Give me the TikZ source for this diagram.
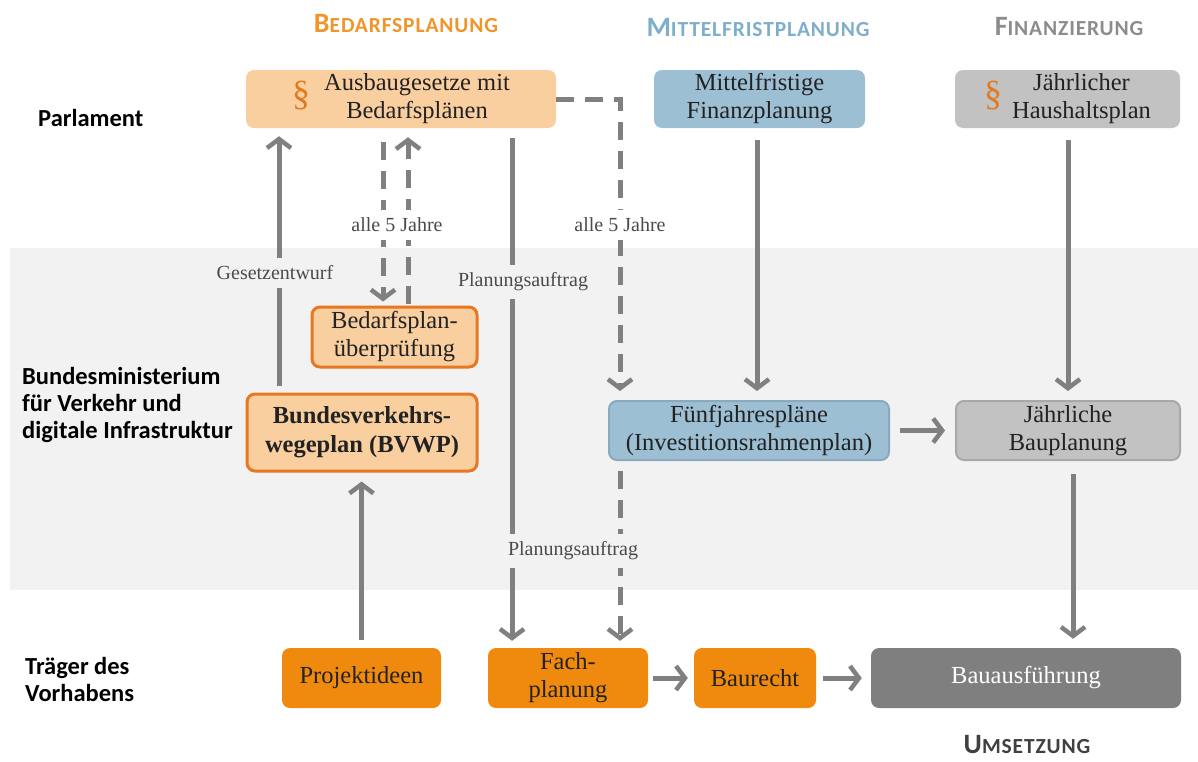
\documentclass[tikz,border=0pt]{standalone}
\usepackage{fontspec}
\setmainfont{Liberation Serif}
\newfontfamily\lab{Carlito}
\newfontfamily\hdrfont[LetterSpace=4]{Carlito}
\usetikzlibrary{arrows.meta,calc}
\definecolor{band}{HTML}{F2F2F2}
\definecolor{lor}{HTML}{F9CFA0}
\definecolor{orb}{HTML}{E87722}
\definecolor{ors}{HTML}{EF8A0E}
\definecolor{blu}{HTML}{9DBFD3}
\definecolor{blub}{HTML}{8AA9BC}
\definecolor{lgr}{HTML}{C2C2C2}
\definecolor{lgrb}{HTML}{A8A8A8}
\definecolor{dgr}{HTML}{7F7F7F}
\definecolor{arrc}{HTML}{808080}
\definecolor{txt}{HTML}{222222}
\definecolor{labc}{HTML}{4A4A4A}
\definecolor{hor}{HTML}{F0952A}
\definecolor{hbl}{HTML}{7FAECB}
\definecolor{hgr}{HTML}{8C8C8C}
\definecolor{hdk}{HTML}{404040}
\definecolor{secor}{HTML}{E07A22}
\begin{document}
\begin{tikzpicture}[x=1pt,y=-1pt,
  box/.style={rounded corners=8pt, align=center, text=txt, inner sep=0pt,
    font=\fontsize{24.5}{28}\selectfont},
  rowlab/.style={anchor=west, align=left, font=\lab\bfseries\fontsize{24.5}{27}\selectfont, text=black, inner sep=0pt},
  hdr/.style={anchor=base, font=\hdrfont\bfseries\fontsize{21.5}{21.5}\selectfont, inner sep=0pt},
  arr/.style={draw=arrc, line width=5pt, -{Straight Barb[length=9pt,width=24pt,line width=4.5pt]}},
  dsh/.style={arr, dash pattern=on 18pt off 11pt},
  lbl/.style={font=\fontsize{20}{22}\selectfont, text=labc, inner xsep=3pt, inner ysep=8pt}]
\useasboundingbox (0,0) rectangle (1198,761);
\fill[band] (10,248) rectangle (1198,590);

% headers
\node[hdr, text=hor] (h1) at (406,32) {{\fontsize{28}{28}\selectfont B}EDARFSPLANUNG};
\node[hdr, text=hbl] (h2) at (758,36) {{\fontsize{28}{28}\selectfont M}ITTELFRISTPLANUNG};
\node[hdr, text=hgr] (h3) at (1069,35) {{\fontsize{28}{28}\selectfont F}INANZIERUNG};
\node[hdr, text=hdk] (h4) at (1027,753) {{\fontsize{28}{28}\selectfont U}MSETZUNG};

% row labels
\node[rowlab] (r1) at (38,118) {Parlament};
\node[rowlab] (r2) at (22,405) {Bundesministerium\\für Verkehr und\\digitale Infrastruktur};
\node[rowlab] (r3) at (25,679) {Träger des\\Vorhabens};

% nodes
\node[box, fill=lor, minimum width=310pt, minimum height=58pt] (A) at (401,99)
  {\textcolor{secor}{\fontsize{36}{36}\selectfont\S}\hspace{14pt}\begin{tabular}{@{}c@{}}Ausbaugesetze mit\\Bedarfsplänen\end{tabular}};
\node[box, fill=blu, minimum width=211pt, minimum height=58pt] (B) at (759.5,99)
  {Mittelfristige\\Finanzplanung};
\node[box, fill=lgr, minimum width=225pt, minimum height=58pt] (C) at (1067.5,99)
  {\textcolor{secor}{\fontsize{36}{36}\selectfont\S}\hspace{10pt}\begin{tabular}{@{}c@{}}Jährlicher\\Haushaltsplan\end{tabular}};
\node[box, fill=lor, draw=orb, line width=3pt, minimum width=165pt, minimum height=60pt] (D) at (394.5,337)
  {Bedarfsplan-\\überprüfung};
\node[box, fill=lor, draw=orb, line width=3pt, minimum width=230pt, minimum height=77pt, font=\bfseries\fontsize{24.5}{29}\selectfont] (E) at (362,432.5)
  {Bundesverkehrs-\\wegeplan (BVWP)};
\node[box, fill=blu, draw=blub, line width=2pt, minimum width=280pt, minimum height=59pt] (F) at (749,430.5)
  {Fünfjahrespläne\\(Investitionsrahmenplan)};
\node[box, fill=lgr, draw=lgrb, line width=2pt, minimum width=224pt, minimum height=59pt] (G) at (1068,430.5)
  {Jährliche\\Bauplanung};
\node[box, fill=ors, minimum width=159pt, minimum height=60pt] (H) at (361.5,678) {Projektideen};
\node[box, fill=ors, minimum width=160pt, minimum height=60pt] (I) at (568,678) {Fach-\\planung};
\node[box, fill=ors, minimum width=122pt, minimum height=60pt] (J) at (755,678) {Baurecht};
\node[box, fill=dgr, text=white, minimum width=310pt, minimum height=60pt] (K) at (1026,678) {Bauausführung};

% connectors
\draw[arr, shorten <=7pt, shorten >=8pt] ([xshift=-83pt]E.north) -- ([xshift=-122pt]A.south);
\draw[dsh, shorten <=14pt, shorten >=4pt] ([xshift=-18pt]A.south) -- ([xshift=-11.5pt]D.north);
\draw[dsh, shorten <=2pt, shorten >=9pt] ([xshift=13.5pt]D.north) -- ([xshift=7pt]A.south);
\draw[arr, shorten <=10pt, shorten >=7pt] ([xshift=111pt]A.south) -- ([xshift=-56pt]I.north);
\draw[dsh, shorten >=9pt] (A.east) -| ([xshift=-129pt]F.north);
\draw[dsh, shorten <=10pt, shorten >=7pt] ([xshift=-129pt]F.south) -- ([xshift=52pt]I.north);
\draw[arr, shorten <=12pt, shorten >=9pt] ([xshift=-2.5pt]B.south) -- ([xshift=-2.5pt]B.south |- F.north);
\draw[arr, shorten <=12pt, shorten >=9pt] ([xshift=0.5pt]C.south) -- ([xshift=0.5pt]C.south |- G.north);
\draw[arr, shorten <=10pt, shorten >=10pt] (F.east) -- (G.west);
\draw[arr, shorten <=13pt, shorten >=9pt] ([xshift=5pt]G.south) -- ([xshift=47pt]K.north);
\draw[arr, shorten <=8pt, shorten >=9pt] (H.north) -- (H.north |- E.south);
\draw[arr, shorten <=5pt, shorten >=6pt] (I.east) -- (J.west);
\draw[arr, shorten <=7pt, shorten >=9pt] (J.east) -- (K.west);

% connector labels
\node[lbl, fill=band] (l1) at (275,273) {Gesetzentwurf};
\node[lbl, fill=white] (l2) at (397,225) {alle 5 Jahre};
\node[lbl, fill=band] (l3) at (523,282) {Planungsauftrag};
\node[lbl, fill=white] (l4) at (620,225) {alle 5 Jahre};
\node[lbl, fill=band] (l5) at (573,551) {Planungsauftrag};
\end{tikzpicture}
\end{document}
